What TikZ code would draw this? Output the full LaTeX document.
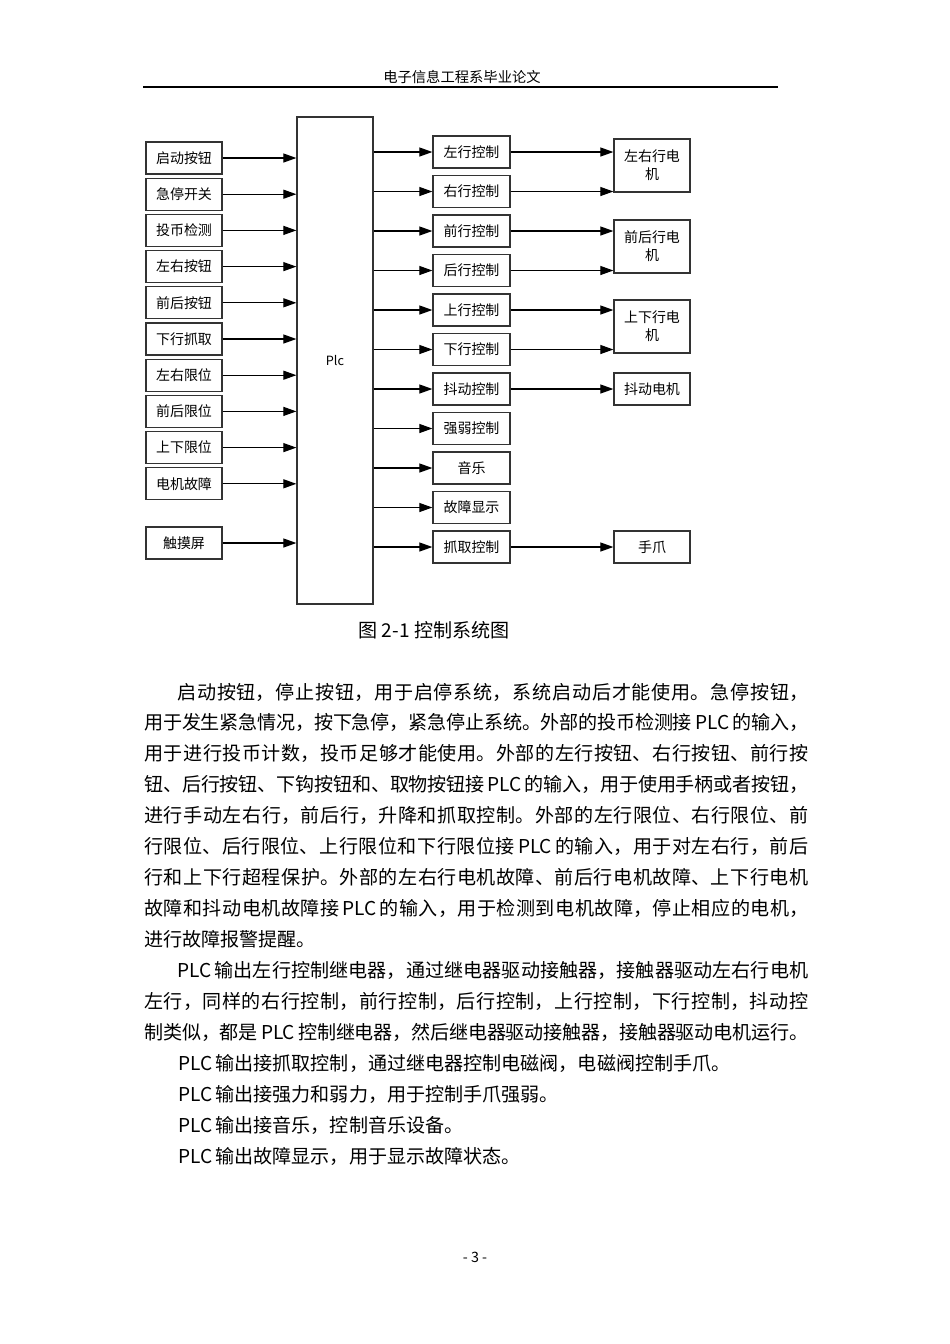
\documentclass[tikz,border=0pt]{standalone}
\usepackage{fontspec}
\setmainfont{Noto Sans CJK SC}
\usepackage{tikz}
\usetikzlibrary{arrows.meta,positioning}
\newlength\pxu
\setlength\pxu{0.2211mm}
\XeTeXlinebreaklocale "zh"
\XeTeXlinebreakskip=0pt plus 1pt minus 0.4pt
\tikzset{font=\fontsize{8.8pt}{11.3pt}\selectfont}
\tikzset{every node/.append style={transform shape=false}}

\begin{document}
\begin{tikzpicture}[x=0.2211mm,y=-0.2211mm,
  box/.style={draw=black!80,line width=0.27mm,inner sep=0pt,minimum width=76\pxu,minimum height=32\pxu,align=center},
  tall/.style={box,minimum height=53\pxu},
  arr/.style={-{Triangle[length=2.9mm,width=2mm]},line width=0.27mm},
  body/.style={anchor=base west,inner sep=0pt,font=\fontsize{12pt}{19.47pt}\selectfont}]
\fill[white] (0,0) rectangle (950,1344);
\useasboundingbox (0,0) rectangle (950,1344);
\node[font=\fontsize{9pt}{11pt}\selectfont] (head) at (462,77) {电子信息工程系毕业论文};
\draw[line width=0.35mm] (143,87) -- (778,87);
% inputs
\foreach \t [count=\i] in {启动按钮,急停开关,投币检测,左右按钮,前后按钮,下行抓取,左右限位,前后限位,上下限位,电机故障}
  \node[box] (in\i) at (184,{121.8+36.2*\i}) {\t};
\node[box] (touch) at (184,543) {触摸屏};
\node[box,minimum height=487\pxu,font=\fontsize{8pt}{10pt}\selectfont] (plc) at (335,360.5) {Plc};
\foreach \i in {1,...,10}
  \draw[arr] (in\i) -- (in\i -| plc.west);
\draw[arr] (touch) -- (touch -| plc.west);
% outputs
\foreach \t [count=\i] in {左行控制,右行控制,前行控制,后行控制,上行控制,下行控制,抖动控制,强弱控制,音乐,故障显示,抓取控制}{
  \node[box,minimum width=77\pxu] (out\i) at (471.5,{112.5+39.5*\i}) {\t};
  \draw[arr] (out\i -| plc.east) -- (out\i);
};
\node[tall] (lr) at (652,165.5) {左右行电\\机};
\node[tall] (fb) at (652,246.5) {前后行电\\机};
\node[tall] (ud) at (652,326.5) {上下行电\\机};
\node[box] (shake) at (652,389) {抖动电机};
\node[box] (claw) at (652,547) {手爪};
\foreach \i/\m in {1/lr,2/lr,3/fb,4/fb,5/ud,6/ud,7/shake,11/claw}
  \draw[arr] (out\i) -- (out\i -| \m.west);
\node[font=\fontsize{12pt}{14pt}\selectfont] (cap) at (434,630) {图 2-1 控制系统图};
% text
\node[body,text width=664\pxu,align=justify] (p1) at (144,699) {\hspace*{33\pxu}启动按钮，停止按钮，用于启停系统，系统启动后才能使用。急停按钮，\linebreak
用于发生紧急情况，按下急停，紧急停止系统。外部的投币检测接\,PLC\,的输入，\linebreak
用于进行投币计数，投币足够才能使用。外部的左行按钮、右行按钮、前行按\linebreak
钮、后行按钮、下钩按钮和、取物按钮接\,PLC\,的输入，用于使用手柄或者按钮，\linebreak
进行手动左右行，前后行，升降和抓取控制。外部的左行限位、右行限位、前\linebreak
行限位、后行限位、上行限位和下行限位接\,PLC\,的输入，用于对左右行，前后\linebreak
行和上下行超程保护。外部的左右行电机故障、前后行电机故障、上下行电机\linebreak
故障和抖动电机故障接\,PLC\,的输入，用于检测到电机故障，停止相应的电机，\linebreak
进行故障报警提醒。};
\node[body,text width=664\pxu,align=justify] (p2) at (144,977.5) {\hspace*{33\pxu}PLC\,输出左行控制继电器，通过继电器驱动接触器，接触器驱动左右行电机\linebreak
左行，同样的右行控制，前行控制，后行控制，上行控制，下行控制，抖动控\linebreak
制类似，都是\,PLC\,控制继电器，然后继电器驱动接触器，接触器驱动电机运行。};
\foreach \t [count=\i] in {PLC\,输出接抓取控制，通过继电器控制电磁阀，电磁阀控制手爪。,PLC\,输出接强力和弱力，用于控制手爪强弱。,PLC\,输出接音乐，控制音乐设备。,PLC\,输出故障显示，用于显示故障状态。}
  \node[body] (q\i) at (178,{1039.45+30.95*\i}) {\t};
\node[font=\fontsize{9pt}{11pt}\selectfont] (pg) at (475,1257) {- 3 -};
\end{tikzpicture}
\end{document}
